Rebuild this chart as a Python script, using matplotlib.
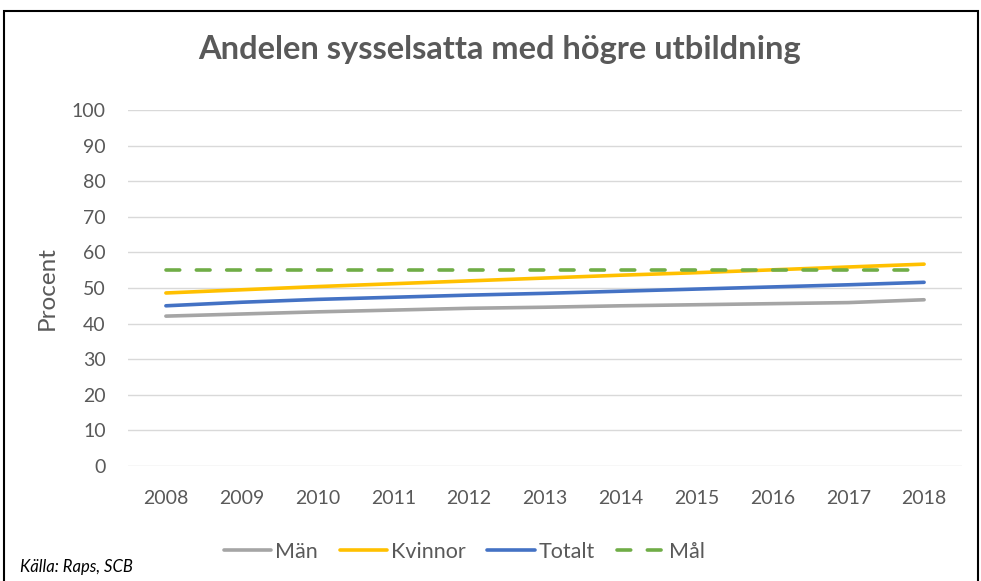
import matplotlib
matplotlib.use("Agg")
import matplotlib.pyplot as plt
from matplotlib.patches import Rectangle

plt.rcParams['font.family'] = ['Lato', 'DejaVu Sans']

# --- Data ---
years = ['2008', '2009', '2010', '2011', '2012', '2013', '2014', '2015', '2016', '2017', '2018']
man = [42.1, 42.7, 43.3, 43.8, 44.3, 44.6, 45.0, 45.3, 45.6, 45.9, 46.7]
kvinnor = [48.6, 49.5, 50.4, 51.2, 52.0, 52.8, 53.6, 54.3, 55.1, 55.9, 56.7]
totalt = [45.0, 46.0, 46.8, 47.4, 48.0, 48.5, 49.1, 49.7, 50.3, 50.9, 51.6]
mal = [55, 55, 55, 55, 55, 55, 55, 55, 55, 55, 55]

text_col = '#595959'

fig = plt.figure(figsize=(9.81, 5.81), dpi=100)
ax = fig.add_axes([128/981, 1 - 466/581, (962 - 128)/981, (466 - 110)/581])

x = range(len(years))
lw = 2.6
ax.plot(x, man, color='#A5A5A5', lw=lw, solid_capstyle='round', label='Män')
ax.plot(x, kvinnor, color='#FFC000', lw=lw, solid_capstyle='round', label='Kvinnor')
ax.plot(x, totalt, color='#4472C4', lw=lw, solid_capstyle='round', label='Totalt')
ax.plot(x, mal, color='#70AD47', lw=lw, ls=(0, (3.8, 4.6)), dash_capstyle='round', label='Mål')

ax.set_xlim(-0.5, len(years) - 0.5)
ax.set_ylim(0, 100)
ax.set_yticks(range(0, 101, 10))
ax.set_xticks(list(x))
ax.set_xticklabels(years)
ax.grid(axis='y', color='#D9D9D9', lw=1)
ax.set_axisbelow(True)
for s in ax.spines.values():
    s.set_visible(False)
ax.tick_params(length=0, colors=text_col, labelsize=14)
ax.tick_params(axis='x', pad=17)
ax.tick_params(axis='y', pad=16)
ax.set_ylabel('Procent', color=text_col, fontsize=17.5, labelpad=10)

fig.text(500/981, 1 - 50/581, 'Andelen sysselsatta med högre utbildning', ha='center', va='center',
         fontsize=23.5, fontweight='bold', color=text_col)

fig.legend(loc='center', bbox_to_anchor=(464/981, 1 - 552/581), ncol=4, frameon=False,
           fontsize=15.5, labelcolor=text_col, handlelength=2.2, handletextpad=0.2, columnspacing=1.0)

fig.text(20/981, 1 - 567/581, 'Källa: Raps, SCB', ha='left', va='center', fontsize=12,
         style='italic', color='black')

# Ram runt diagrammet
fig.patches.append(Rectangle((4/981, -0.01), 974/981, 1 - 11/581 + 0.01, transform=fig.transFigure,
                             fill=False, edgecolor='black', lw=1.5))

fig.savefig('out.png', dpi=100)
